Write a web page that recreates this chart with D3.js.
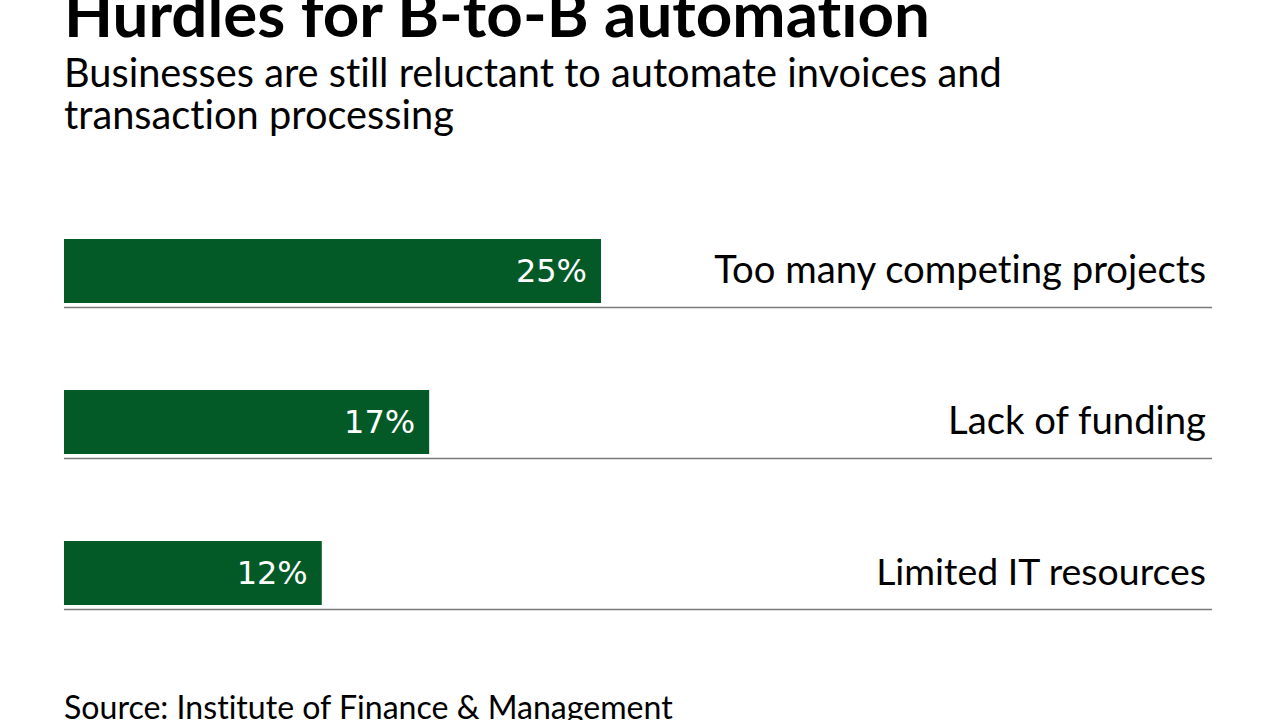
<!DOCTYPE html>
<html><head><meta charset="utf-8">
<script src="https://cdn.jsdelivr.net/npm/d3@7"></script>
<style>html,body{margin:0;padding:0;background:#fff;overflow:hidden} text{font-variant-ligatures:none}</style>
</head><body>
<script>
const categories = ["Too many competing projects", "Lack of funding", "Limited IT resources"];
const values = [25, 17, 12];
const valueLabels = ["25%", "17%", "12%"];
const title = "Hurdles for B-to-B automation";
const subtitleLines = ["Businesses are still reluctant to automate invoices and", "transaction processing"];
const source = "Source: Institute of Finance & Management";

const W = 1280, H = 720;
const svg = d3.select("body").append("svg").attr("width", W).attr("height", H);
const sans = "Lato, 'Open Sans', sans-serif";

function fit(sel, target) {
  const n = sel.node();
  const w = n.getComputedTextLength();
  const fs = parseFloat(sel.attr("font-size"));
  sel.attr("font-size", fs * target / w);
}

const t = svg.append("text").attr("x", 64).attr("y", 37).attr("font-family", sans)
  .attr("font-weight", 700).attr("font-size", 54).attr("fill", "#000").text(title);
fit(t, 866);

const sub1 = svg.append("text").attr("x", 64).attr("y", 87).attr("font-family", sans)
  .attr("font-size", 34).attr("fill", "#000").text(subtitleLines[0]);
fit(sub1, 938);
svg.append("text").attr("x", 64).attr("y", 129).attr("font-family", sans)
  .attr("font-size", sub1.attr("font-size")).attr("fill", "#000").text(subtitleLines[1]);

const x = d3.scaleLinear().domain([0, 25]).range([64, 601]);
const labelWidths = [492, 258, 330];

const y0 = 239, step = 151, bh = 64;
const g = svg.append("g");
categories.forEach((c, i) => {
  const top = y0 + i * step;
  g.append("rect").attr("x", x(0)).attr("y", top).attr("width", x(values[i]) - x(0)).attr("height", bh)
    .attr("fill", "#045a27");
  g.append("line").attr("x1", 64).attr("x2", 1212).attr("y1", top + bh + 4.5).attr("y2", top + bh + 4.5)
    .attr("stroke", "#7a7a7a").attr("stroke-width", 1.5);
  g.append("text").attr("x", x(values[i]) - 14).attr("y", top + 43).attr("text-anchor", "end")
    .attr("font-family", "'DejaVu Sans', sans-serif").attr("font-size", 32).attr("fill", "#fff")
    .text(valueLabels[i]);
  const lab = g.append("text").attr("x", 1206).attr("y", top + 44).attr("text-anchor", "end")
    .attr("font-family", sans).attr("font-size", 34).attr("fill", "#000").text(c);
  fit(lab, labelWidths[i]);
});

const src = svg.append("text").attr("x", 64).attr("y", 719).attr("font-family", sans)
  .attr("font-size", 30).attr("fill", "#000").text(source);
fit(src, 609);
</script>
</body></html>
